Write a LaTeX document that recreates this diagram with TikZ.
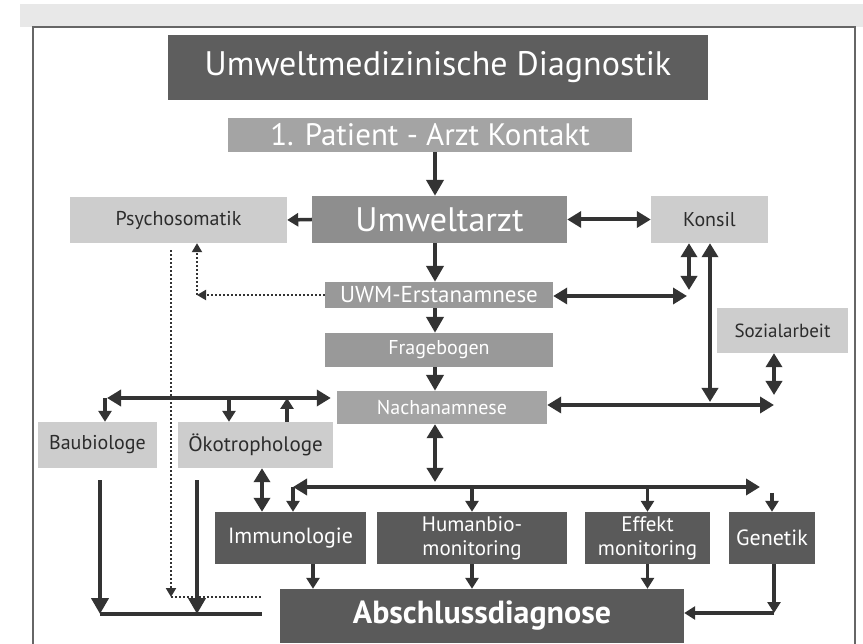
\documentclass[tikz,border=0pt]{standalone}
\usepackage{fontspec}
\setmainfont{PT Sans}
\usetikzlibrary{arrows.meta,positioning,calc}
\definecolor{titlegray}{HTML}{5E5E5E}
\definecolor{midgray}{HTML}{8E8E8E}
\definecolor{palegray}{HTML}{A4A4A4}
\definecolor{lightgray}{HTML}{CDCDCD}
\definecolor{darkgray}{HTML}{5A5A5A}
\definecolor{boxtext}{HTML}{2C2C2C}
\definecolor{arrowgray}{HTML}{333333}

\begin{document}
\begin{tikzpicture}[x=1pt, y=-1pt,
  every node/.style={inner sep=0pt, align=center},
  midbox/.style={rectangle, fill=midgray, text=white},
  lightbox/.style={rectangle, fill=lightgray, text=boxtext, font=\fontsize{20}{22}\selectfont},
  darkbox/.style={rectangle, fill=darkgray, text=white, font=\fontsize{22}{24}\selectfont, minimum height=52pt},
  arr/.style={-{Triangle[length=16pt, width=17pt]}, line width=4pt, draw=arrowgray},
  darr/.style={{Triangle[length=14pt, width=16pt]}-{Triangle[length=14pt, width=16pt]}, line width=4pt, draw=arrowgray},
  sarr/.style={-{Triangle[length=11pt, width=13pt]}, line width=3.5pt, draw=arrowgray},
  dotarr/.style={-{Triangle[length=9pt, width=10pt]}, dotted, line width=2pt, draw=arrowgray},
  dotline/.style={dotted, line width=2pt, draw=arrowgray},
  bus/.style={line width=4pt, draw=arrowgray}
]
\useasboundingbox (0,0) rectangle (863,644);

% Scan strip and frame
\fill[gray!18] (20,4) rectangle (863,27);
\draw[line width=2pt, draw=black!60] (33,646) -- (33,27) -- (855,27) -- (855,646);

% Top
\node[rectangle, fill=titlegray, text=white, minimum width=540pt, minimum height=65pt,
  font=\fontsize{34}{36}\selectfont] (title) at (438,67.5) {Umweltmedizinische Diagnostik};
\node[midbox, fill=palegray, minimum width=404pt, minimum height=34pt,
  font=\fontsize{31}{33}\selectfont] (patient) at (430,135) {1. Patient - Arzt Kontakt};

% Middle row
\node[lightbox, minimum width=217pt, minimum height=46pt] (psycho) at (178.5,220) {Psychosomatik};
\node[midbox, minimum width=255pt, minimum height=47pt,
  font=\fontsize{34}{36}\selectfont] (arzt) at (439.5,219.5) {Umweltarzt};
\node[lightbox, minimum width=117pt, minimum height=47pt] (konsil) at (709.5,219.5) {Konsil};

% Anamnesis chain
\node[midbox, fill=midgray!90, minimum width=228pt, minimum height=26pt,
  font=\fontsize{23}{25}\selectfont] (uwm) at (439,295) {UWM-Erstanamnese};
\node[midbox, fill=midgray!90, minimum width=228pt, minimum height=34pt,
  font=\fontsize{20}{22}\selectfont] (frage) at (439,350) {Fragebogen};
\node[midbox, fill=palegray, minimum width=210pt, minimum height=33pt,
  font=\fontsize{20}{22}\selectfont] (nach) at (442,407.5) {Nachanamnese};
\node[lightbox, minimum width=131pt, minimum height=45pt,
  font=\fontsize{19}{21}\selectfont] (sozial) at (782.5,330.5) {Sozialarbeit};

% Left experts
\node[lightbox, minimum width=119pt, minimum height=46pt] (bau) at (97.5,445) {Baubiologe};
\node[lightbox, minimum width=155pt, minimum height=46pt,
  font=\fontsize{21}{23}\selectfont] (oeko) at (255.5,445) {Ökotrophologe};

% Lab row
\node[darkbox, minimum width=151pt] (immu) at (290.5,538) {Immunologie};
\node[darkbox, minimum width=190pt, font=\fontsize{21}{24}\selectfont] (human) at (472,538) {Humanbio-\\monitoring};
\node[darkbox, minimum width=125pt, font=\fontsize{21}{24}\selectfont] (effekt) at (647.5,538) {Effekt\\monitoring};
\node[darkbox, minimum width=86pt] (genetik) at (772,538) {Genetik};

% Conclusion
\node[rectangle, fill=darkgray, text=white, minimum width=404pt, minimum height=54pt,
  font=\fontsize{32}{34}\selectfont\bfseries] (abschl) at (482,616) {Abschlussdiagnose};

% Bus points
\coordinate (spine) at (435,0);
\coordinate (kA) at (689,296);
\coordinate (kB) at (710,405);
\coordinate (sB) at (774,405);
\coordinate (lB) at (105,398);
\coordinate (oA) at (229,398);
\coordinate (oB) at (287,398);
\coordinate (mB) at (435,487);
\coordinate (iB) at (293,487);
\coordinate (gB) at (760,487);
\coordinate (gC) at (774,613);
\coordinate (bC) at (100,614);
\coordinate (oC) at (197,614);
\coordinate (pC) at (171,597);
\coordinate (pU) at (197,295);

% Main chain
\draw[arr] (patient.south -| spine) -- (arzt.north -| spine);
\draw[sarr] (arzt.west) -- (psycho.east);
\draw[darr] (arzt.east) -- (konsil.west);
\draw[arr] (arzt.south -| spine) -- (uwm.north -| spine);
\draw[arr] (uwm.south -| spine) -- (frage.north -| spine);
\draw[arr] (frage.south -| spine) -- (nach.north -| spine);

% Konsil and Sozialarbeit
\draw[darr] (uwm.east |- kA) -- ([xshift=-2pt]kA);
\draw[darr] (konsil.south -| kA) -- ([yshift=6pt]kA);
\draw[darr] (konsil.south -| kB) -- ([yshift=3pt]kB);
\draw[darr] (nach.east |- sB) -- (sB);
\draw[darr] (sozial.south -| sB) -- ([yshift=10pt]sB);

% Psychosomatik (dotted)
\draw[dotarr] (uwm.west) -- (pU);
\draw[dotarr] (pU) -- (psycho.south -| pU);
\draw[dotarr] ([yshift=-7pt]psycho.south -| pC) -- (pC);
\draw[dotline] (pC) -- ([xshift=-18pt]abschl.west |- pC);

% Left bus
\draw[darr] ([xshift=2pt]lB) -- ([xshift=-6pt]nach.west |- lB);
\draw[sarr] (lB) -- (bau.north -| lB);
\draw[sarr] (oA) -- (oeko.north -| oA);
\draw[sarr] (oeko.north -| oB) -- (oB);

% Lower bus
\draw[darr] (nach.south -| mB) -- ([yshift=5pt]mB);
\draw[darr] (iB) -- (gB);
\draw[sarr] (iB) -- (immu.north -| iB);
\draw[sarr] (human.north |- mB) -- (human.north);
\draw[sarr] (effekt.north |- mB) -- (effekt.north);
\draw[sarr] ([yshift=-6pt]genetik.north |- mB) -- (genetik.north);
\draw[darr] ([xshift=6.5pt]oeko.south) -- ([xshift=6.5pt]oeko.south |- immu.north);

% Into the conclusion
\draw[sarr] ([xshift=22.5pt]immu.south) -- ([xshift=22.5pt]immu.south |- abschl.north);
\draw[sarr] (human.south) -- (human.south |- abschl.north);
\draw[sarr] (effekt.south) -- (effekt.south |- abschl.north);
\draw[sarr] (genetik.south -| gC) -- (gC);
\draw[sarr] (gC) -- (abschl.east |- gC);
\draw[arr] ([yshift=-12pt]bau.south -| bC) -- (bC);
\draw[arr] ([yshift=-12pt]oeko.south -| oC) -- (oC);
\draw[bus] (bC) -- ([xshift=-18pt]abschl.west |- bC);

\end{tikzpicture}
\end{document}
